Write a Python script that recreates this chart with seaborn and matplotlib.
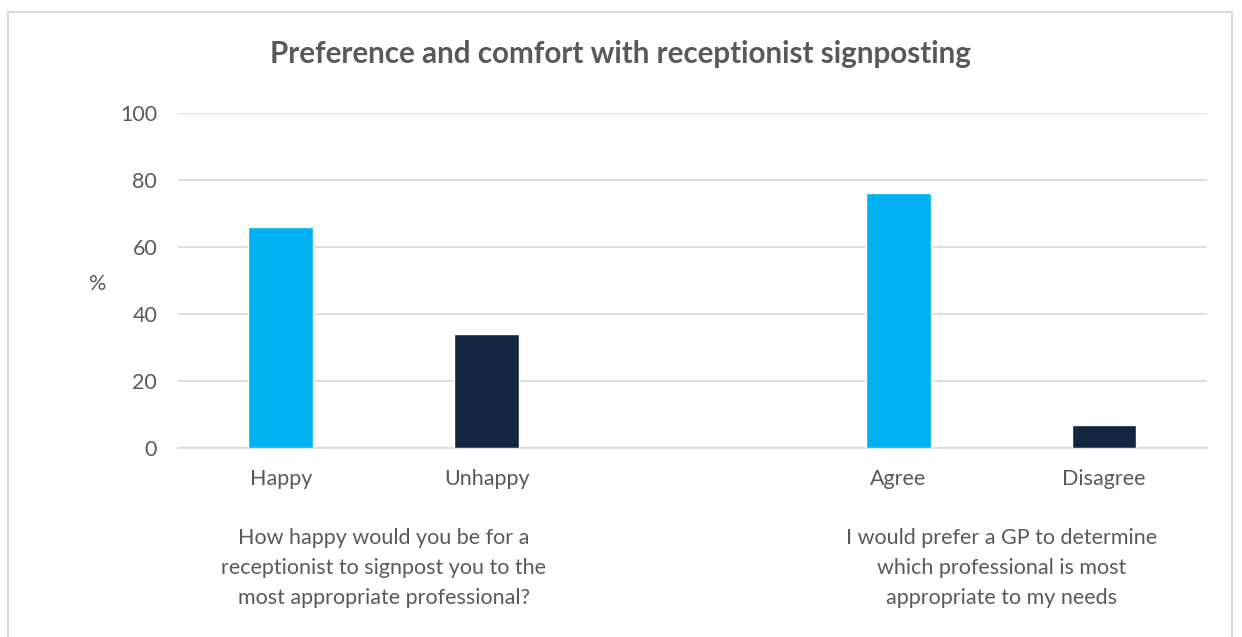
import matplotlib
matplotlib.use("Agg")
import matplotlib.pyplot as plt
import seaborn as sns
import pandas as pd
from matplotlib.patches import Rectangle

# Survey responses (%)
answers = ["Happy", "Unhappy", "Agree", "Disagree"]
percent = [66, 34, 76, 7]
slot = [0, 1, 3, 4]          # slot 2 stays empty between the two questions
tone = ["positive", "negative", "positive", "negative"]
questions = [
    "How happy would you be for a\nreceptionist to signpost you to the\nmost appropriate professional?",
    "I would prefer a GP to determine\nwhich professional is most\nappropriate to my needs",
]
question_centre = [0.5, 3.5]
y_ticks = [0, 20, 40, 60, 80, 100]

palette = {"positive": "#00B0F0", "negative": "#12263F"}
text_col = "#595959"
grid_col = "#D9D9D9"

sns.set_theme(style="white")
plt.rcParams["font.family"] = ["Lato", "DejaVu Sans"]

df = pd.DataFrame({"answer": answers, "percent": percent, "slot": slot, "tone": tone})

fig = plt.figure(figsize=(12.42, 6.37), dpi=100)
ax = fig.add_axes([0.1433, 0.2967, 0.8285, 0.5259])

sns.barplot(data=df, x="slot", y="percent", hue="tone", palette=palette,
            native_scale=True, width=0.315, saturation=1, legend=False,
            ax=ax, zorder=3)

ax.set_xlim(-0.5, 4.5)
ax.set_ylim(0, 100)
ax.set_yticks(y_ticks)
ax.yaxis.grid(True, color=grid_col, linewidth=1.2, zorder=0)
ax.xaxis.grid(False)
for s in ["top", "right", "left"]:
    ax.spines[s].set_visible(False)
ax.spines["bottom"].set_color(grid_col)
ax.spines["bottom"].set_linewidth(1.2)

fs = 15.5
ax.set_xticks(slot)
ax.set_xticklabels(answers)
ax.tick_params(axis="x", length=0, pad=15, labelsize=fs, labelcolor=text_col)
ax.tick_params(axis="y", length=0, pad=15, labelsize=fs, labelcolor=text_col)
ax.set_xlabel("")
ax.set_ylabel("%", rotation=0, fontsize=fs, color=text_col, labelpad=0)
ax.yaxis.set_label_coords(-0.078, 0.46)

for q, c in zip(questions, question_centre):
    ax.text(c, -0.24, q, transform=ax.get_xaxis_transform(), ha="center", va="top",
            fontsize=fs, color=text_col, linespacing=1.6)

fig.text(0.5, 0.916, "Preference and comfort with receptionist signposting",
         ha="center", va="center", fontsize=21.3, fontweight="bold", color=text_col)

fig.patches.append(Rectangle((8 / 1242, -0.01), 1224 / 1242, 1 - 12 / 637 + 0.01,
                             transform=fig.transFigure, fill=False,
                             edgecolor="#D9D9D9", linewidth=1.5))

fig.savefig("out.png", dpi=100, facecolor="white")
